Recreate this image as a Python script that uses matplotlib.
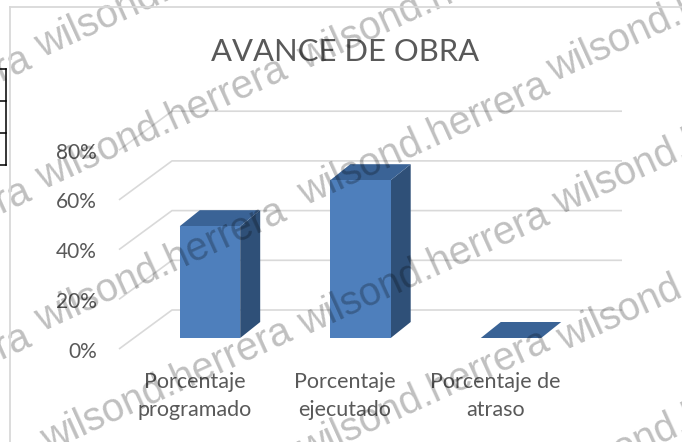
import matplotlib
matplotlib.use("Agg")
import matplotlib.pyplot as plt

title = "AVANCE DE OBRA"
categories = ["Porcentaje\nprogramado", "Porcentaje\nejecutado", "Porcentaje de\natraso"]
values = [45, 63.5, 0]
yticks = [0, 20, 40, 60, 80]
wm_text = "wilsond.herrera"
wm_x = [-213, 42, -213, 43, 305, -213, 42, 305, 554, 48, 305, 560, 305, 564, 560]
wm_y = [180, 58, 312, 190, 70, 458, 332, 206, 82, 452, 336, 215, 462, 351, 490]

W, H = 682, 442
PX_CAT = 150.5
PX_PCT = 2.485
X0, Y0 = 210, 338

fig = plt.figure(figsize=(W / 100, H / 100), dpi=100, facecolor="white")
ax = fig.add_axes([0, 0, 1, 1])
ax.set_xlim(-X0 / PX_CAT, (W - X0) / PX_CAT)
ax.set_ylim(-(H - Y0) / PX_PCT, Y0 / PX_PCT)
ax.axis("off")

dxp = lambda p: p / PX_CAT
dyp = lambda p: -p / PX_PCT   # p in screen pixels downwards

# chart frame + table fragment in figure pixels
for (xs, ys) in [([9.5, 9.5], [442, 7]), ([9.5, 682], [7, 7])]:
    fig.add_artist(plt.Line2D([x / W for x in xs], [1 - y / H for y in ys], color="#d9d9d9", lw=1.3))
for y in [69, 101, 133, 165]:
    fig.add_artist(plt.Line2D([0, 6 / W], [1 - y / H] * 2, color="black", lw=1.1))
fig.add_artist(plt.Line2D([6 / W, 6 / W], [1 - 69 / H, 1 - 165 / H], color="black", lw=1.1))

# gridlines
for v in yticks:
    xs = [dxp(119 - X0), dxp(172 - X0), dxp(622 - X0)]
    ys = [v + dyp(11), v + dyp(-28), v + dyp(-28)]
    ax.plot(xs, ys, color="#d9d9d9", lw=1.2, zorder=1, solid_capstyle="butt")
    ax.text(dxp(97 - X0), v + dyp(13.5), f"{v}%", ha="right", va="center",
            family="Lato", fontsize=15, color="#595959", zorder=3)

# 3-D bars
HALF = dxp(30.2)
DX, DY = dxp(20), -dyp(16)
for i, v in enumerate(values):
    l, r = i - HALF, i + HALF
    ax.fill([r, r + DX, r + DX, r], [0, DY, v + DY, v], color="#2f5078", lw=0, zorder=2)
    ax.fill([l, l + DX, r + DX, r], [v, v + DY, v + DY, v], color="#3a6396", lw=0, zorder=2)
    if v > 0:
        ax.fill([l, r, r, l], [0, 0, v, v], color="#4e7fbc", lw=0, zorder=2)
    ax.text(i + dxp(-15.5), dyp(58), categories[i], ha="center", va="center",
            family="Lato", fontsize=15.5, color="#595959", linespacing=1.5, zorder=3)

ax.text(dxp(345.5 - X0), dyp(52 - Y0), title, ha="center", va="center",
        family="Lato", fontsize=22.3, color="#595959", zorder=3)

# watermark
for x, y in zip(wm_x, wm_y):
    ax.text(dxp(x - X0), dyp(y - Y0), wm_text, family="Liberation Sans", fontsize=28.5,
            color="black", alpha=0.25, rotation=24.5, rotation_mode="anchor",
            ha="left", va="baseline", zorder=5, clip_on=True)

fig.savefig("out.png", dpi=100)
